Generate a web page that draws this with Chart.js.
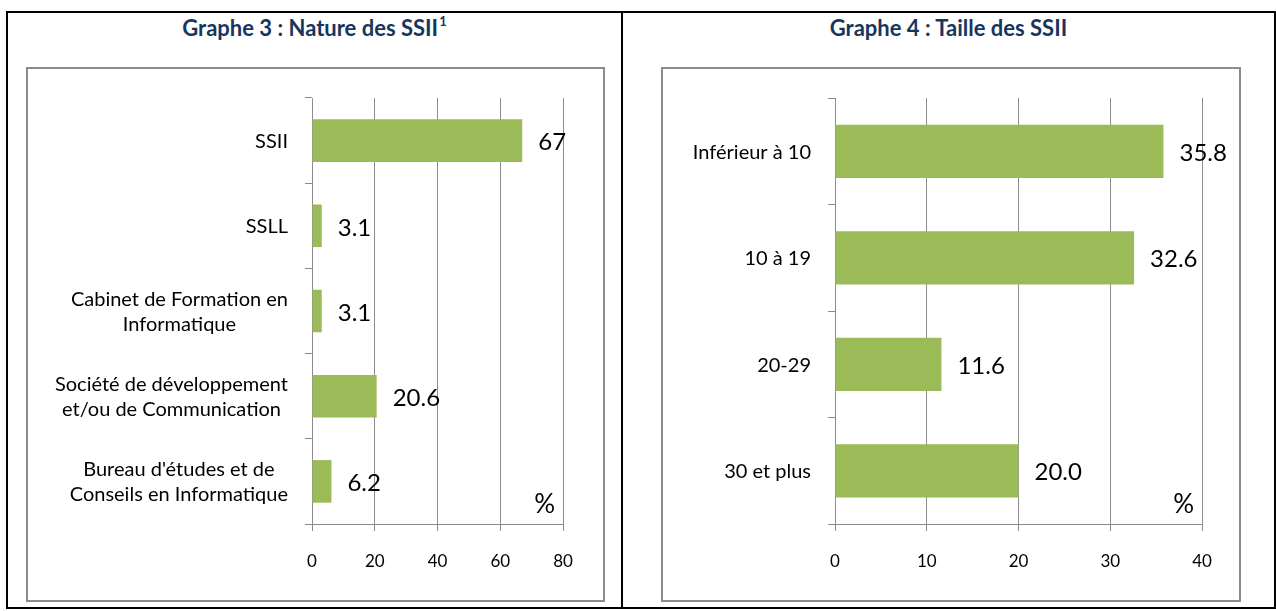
<!DOCTYPE html>
<html>
<head>
<meta charset="utf-8">
<script src="https://cdn.jsdelivr.net/npm/chart.js@4.4.1/dist/chart.umd.min.js"></script>
<style>
  html, body { margin: 0; padding: 0; background: #fff; }
  body { width: 1276px; height: 611px; position: relative; overflow: hidden; font-family: Lato, "Open Sans", sans-serif; }
  .outer { position: absolute; left: 6px; top: 11px; width: 1270px; height: 598px; box-sizing: border-box; border: 2px solid #000; }
  .divider { position: absolute; left: 621px; top: 11px; width: 2px; height: 598px; background: #000; }
  .title { position: absolute; top: 15px; font-weight: bold; font-size: 22px; color: #17365D; text-align: center; line-height: 26px; }
  .title sup { font-size: 13px; line-height: 0; vertical-align: baseline; position: relative; top: -10px; margin-left: 1px; }
  .box { position: absolute; top: 67px; height: 535px; box-sizing: border-box; border: 2px solid #8c8c8c; }
  .box canvas { position: absolute; left: 0; top: 0; }
</style>
</head>
<body>
<div class="outer"></div>
<div class="divider"></div>
<div class="title" style="left:8px;width:613px;">Graphe 3 : Nature des SSII<sup>1</sup></div>
<div class="title" style="left:623px;width:651px;">Graphe 4 : Taille des SSII</div>
<div class="box" style="left:26px;width:579px;"><canvas id="c1" width="575" height="531"></canvas></div>
<div class="box" style="left:661px;width:580px;"><canvas id="c2" width="576" height="531"></canvas></div>
<script>
// ---- Data ----
const natureCategories = [
  ["SSII"],
  ["SSLL"],
  ["Cabinet de Formation en", "Informatique"],
  ["Société de développement", "et/ou de Communication"],
  ["Bureau d'études et de", "Conseils en Informatique"]
];
const natureValues = [67, 3.1, 3.1, 20.6, 6.2];
const natureTicks = [0, 20, 40, 60, 80];

const tailleCategories = [
  ["Inférieur à 10"],
  ["10 à 19"],
  ["20-29"],
  ["30 et plus"]
];
const tailleValues = [35.8, 32.6, 11.6, 20.0];
const tailleTicks = [0, 10, 20, 30, 40];

const unitLabel = "%";

// ---- Styling ----
const BAR = '#9BBB59';
const AXIS = '#8c8c8c';
const FONT = 'Lato, "Open Sans", sans-serif';

const customText = {
  id: 'customText',
  afterDraw(chart, args, opts) {
    const ctx = chart.ctx;
    const ca = chart.chartArea;
    const yScale = chart.scales.y;
    ctx.save();
    ctx.fillStyle = '#000';
    // category labels: block right-aligned, lines centered within block
    ctx.font = '20px ' + FONT;
    ctx.textBaseline = 'middle';
    ctx.textAlign = 'center';
    opts.categories.forEach((lines, i) => {
      const y = yScale.getPixelForTick(i);
      const maxW = Math.max(...lines.map(l => ctx.measureText(l).width));
      const cx = ca.left - 24 - maxW / 2;
      const lh = 25;
      const y0 = y - (lines.length - 1) * lh / 2;
      lines.forEach((l, k) => ctx.fillText(l, cx, y0 + k * lh + 1));
    });
    // data labels
    ctx.font = '24px ' + FONT;
    ctx.textAlign = 'left';
    const meta = chart.getDatasetMeta(0);
    meta.data.forEach((bar, i) => {
      const v = chart.data.datasets[0].data[i];
      const txt = opts.decimals === null ? String(v) : v.toFixed(opts.decimals);
      ctx.fillText(txt, bar.x + 16, bar.y + 2);
    });
    // unit label
    ctx.font = '26px ' + FONT;
    ctx.textAlign = 'right';
    ctx.fillText(opts.unit, ca.right - 8, ca.bottom - 19);
    ctx.restore();
  }
};

function makeChart(id, cats, vals, ticks, decimals, rightPad, yWidth) {
  const maxV = ticks[ticks.length - 1];
  const step = ticks[1] - ticks[0];
  return new Chart(document.getElementById(id), {
    type: 'bar',
    data: {
      labels: cats.map(c => c.join(' ')),
      datasets: [{ data: vals, backgroundColor: BAR, borderWidth: 0, categoryPercentage: 1.0, barPercentage: 0.5 }]
    },
    options: {
      indexAxis: 'y',
      responsive: false,
      animation: false,
      devicePixelRatio: 1,
      layout: { padding: { top: 29, right: rightPad, left: 0, bottom: 0 } },
      plugins: {
        legend: { display: false },
        tooltip: { enabled: false },
        customText: { categories: cats, decimals: decimals, unit: unitLabel }
      },
      scales: {
        x: {
          min: ticks[0], max: maxV,
          ticks: { stepSize: step, color: '#000', font: { family: FONT, size: 17 }, padding: 20, maxRotation: 0 },
          grid: { color: AXIS, lineWidth: 1, drawTicks: true, tickLength: 7, tickColor: AXIS },
          border: { display: true, color: AXIS, width: 1 },
          afterFit(s) { s.height = 76; }
        },
        y: {
          ticks: { display: false },
          grid: { display: true, drawOnChartArea: false, drawTicks: true, tickLength: 7, color: AXIS, offset: true },
          border: { display: true, color: AXIS, width: 1 },
          afterFit(s) { s.width = yWidth; }
        }
      }
    },
    plugins: [customText]
  });
}

makeChart('c1', natureCategories, natureValues, natureTicks, null, 40, 284);
makeChart('c2', tailleCategories, tailleValues, tailleTicks, 1, 37, 172);
</script>
</body>
</html>
